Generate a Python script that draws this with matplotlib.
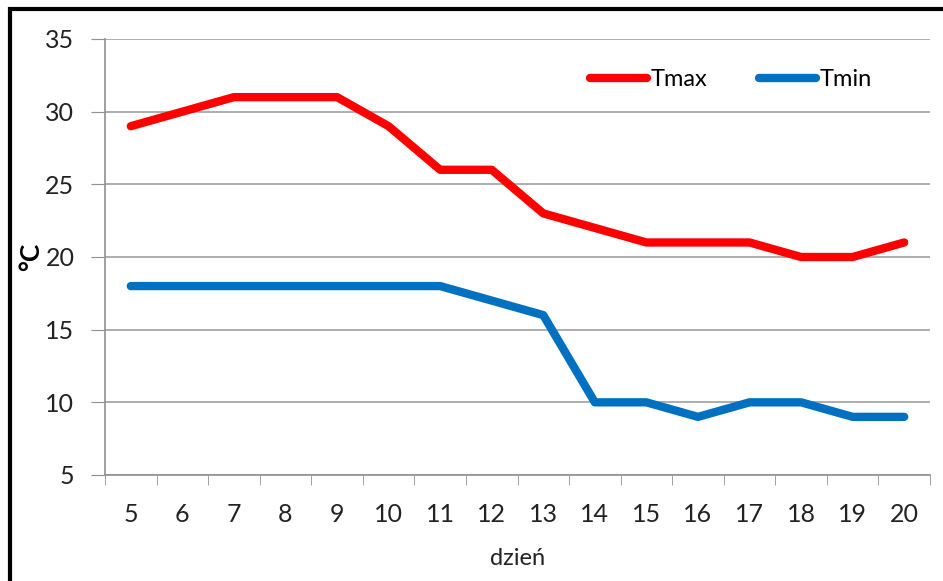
import matplotlib.pyplot as plt
from matplotlib.patches import Rectangle

days = [5, 6, 7, 8, 9, 10, 11, 12, 13, 14, 15, 16, 17, 18, 19, 20]
tmax = [29, 30, 31, 31, 31, 29, 26, 26, 23, 22, 21, 21, 21, 20, 20, 21]
tmin = [18, 18, 18, 18, 18, 18, 18, 17, 16, 10, 10, 9, 10, 10, 9, 9]

plt.rcParams['font.family'] = ['Lato', 'DejaVu Sans']

fig = plt.figure(figsize=(9.43, 5.81), dpi=100)
ax = fig.add_axes([105 / 943, 1 - 475 / 581, 825 / 943, 436 / 581])

# outer frame like the Excel chart area
fig.patches.append(Rectangle((10 / 943, -0.05), 1.0, 1 - 9 / 581 + 0.05,
                             transform=fig.transFigure, fill=False,
                             edgecolor="black", linewidth=3))

x = list(range(len(days)))
ax.plot(x, tmax, color="#ff0000", linewidth=6, solid_capstyle="round",
        solid_joinstyle="round", label="Tmax")
ax.plot(x, tmin, color="#0070c0", linewidth=6, solid_capstyle="round",
        solid_joinstyle="round", label="Tmin")

ax.set_xlim(-0.5, len(days) - 0.5)
ax.set_ylim(5, 35)
ax.set_yticks(range(5, 36, 5))
ax.set_xticks(x)
ax.set_xticklabels([str(d) for d in days])
ax.set_xticks([i - 0.5 for i in range(len(days) + 1)], minor=True)
ax.tick_params(axis="x", which="major", length=0, pad=20, labelsize=18,
               colors="#222222")
ax.tick_params(axis="x", which="minor", length=7, color="#909090", direction="out")
ax.tick_params(axis="y", length=10, color="#909090", direction="out", pad=12,
               labelsize=18, colors="#222222")
ax.grid(axis="y", color="#a0a0a0", linewidth=1.2)
ax.set_axisbelow(True)

for side in ["top", "right"]:
    ax.spines[side].set_visible(False)
for side in ["left", "bottom"]:
    ax.spines[side].set_color("#909090")
    ax.spines[side].set_linewidth(1.2)

ax.set_xlabel("dzień", fontsize=17, color="#222222", labelpad=16)
ax.set_ylabel("°C", fontsize=19, fontweight="bold", va="center")
ax.yaxis.set_label_coords(-0.09, 0.5)

ax.legend(loc="upper right", bbox_to_anchor=(0.955, 0.98), ncol=2, frameon=False,
          fontsize=17, handlelength=2.4, handletextpad=0.15, columnspacing=2.2)

fig.savefig("out.png", dpi=100)
